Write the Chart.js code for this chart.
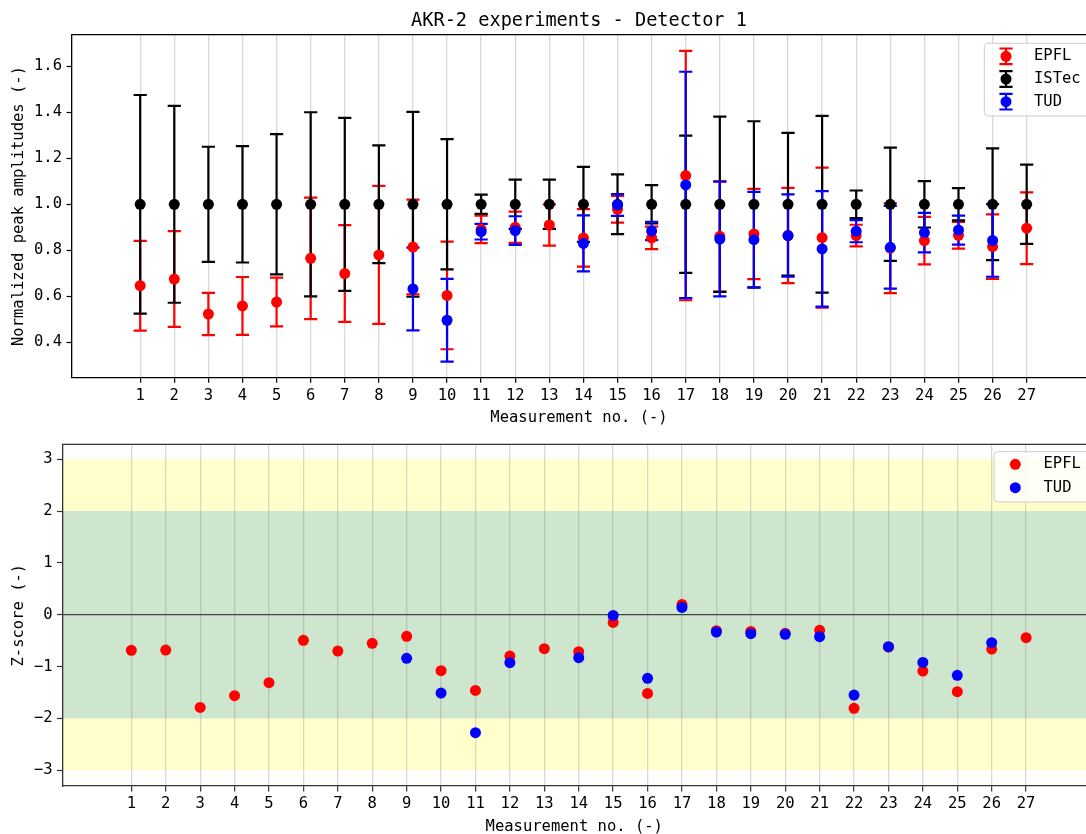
<!DOCTYPE html>
<html>
<head>
<meta charset="utf-8">
<title>AKR-2 experiments - Detector 1</title>
<script src="https://cdn.jsdelivr.net/npm/chart.js@4/dist/chart.umd.min.js"></script>
<style>
  html, body { margin: 0; padding: 0; background: #ffffff; overflow: hidden; }
  #wrap { position: relative; width: 1086px; height: 834px; overflow: hidden; }
  canvas { position: absolute; left: 0; }
  #amplitudes { top: 0; }
  #zscores { top: 430px; }
</style>
</head>
<body>
<div id="wrap">
  <canvas id="amplitudes" width="1086" height="430"></canvas>
  <canvas id="zscores" width="1086" height="410"></canvas>
</div>
<script>
// Measurement numbers shared by both panels
const measurementNos = [1, 2, 3, 4, 5, 6, 7, 8, 9, 10, 11, 12, 13, 14, 15, 16, 17, 18, 19, 20, 21, 22, 23, 24, 25, 26, 27];

// Normalized peak amplitudes and their (symmetric) uncertainties
const epflValues = [0.646, 0.675, 0.523, 0.558, 0.575, 0.765, 0.699, 0.780, 0.814, 0.604, 0.891, 0.900, 0.910, 0.854, 0.978, 0.854, 1.125, 0.861, 0.871, 0.864, 0.855, 0.864, 0.809, 0.842, 0.865, 0.816, 0.896];
const epflErrors = [0.195, 0.208, 0.092, 0.126, 0.106, 0.264, 0.210, 0.300, 0.206, 0.234, 0.060, 0.068, 0.090, 0.125, 0.058, 0.049, 0.542, 0.240, 0.196, 0.207, 0.304, 0.047, 0.195, 0.103, 0.058, 0.140, 0.156];

const istecValues = [1, 1, 1, 1, 1, 1, 1, 1, 1, 1, 1, 1, 1, 1, 1, 1, 1, 1, 1, 1, 1, 1, 1, 1, 1, 1, 1];
const istecErrors = [0.475, 0.428, 0.250, 0.253, 0.305, 0.400, 0.376, 0.256, 0.402, 0.283, 0.042, 0.107, 0.107, 0.163, 0.130, 0.083, 0.298, 0.381, 0.361, 0.310, 0.384, 0.060, 0.246, 0.101, 0.070, 0.243, 0.172];

const tudValues = [null, null, null, null, null, null, null, null, 0.632, 0.496, 0.881, 0.886, null, 0.830, 0.997, 0.884, 1.084, 0.849, 0.846, 0.864, 0.806, 0.883, 0.813, 0.877, 0.888, 0.843, null];
const tudErrors = [null, null, null, null, null, null, null, null, 0.180, 0.180, 0.034, 0.062, null, 0.122, 0.047, 0.040, 0.492, 0.249, 0.208, 0.179, 0.251, 0.048, 0.180, 0.086, 0.063, 0.158, null];

// Z-scores relative to the ISTec reference
const epflZ = [-0.688, -0.682, -1.788, -1.563, -1.312, -0.495, -0.701, -0.553, -0.418, -1.080, -1.460, -0.797, -0.656, -0.714, -0.148, -1.518, 0.199, -0.309, -0.322, -0.360, -0.302, -1.807, -0.624, -1.087, -1.486, -0.662, -0.444];
const tudZ = [null, null, null, null, null, null, null, null, -0.842, -1.511, -2.277, -0.926, null, -0.830, -0.013, -1.228, 0.141, -0.334, -0.367, -0.379, -0.424, -1.550, -0.617, -0.920, -1.170, -0.540, null];

// Tick labels
const amplitudeTicks = [0.4, 0.6, 0.8, 1.0, 1.2, 1.4, 1.6];
const zTicks = [-3, -2, -1, 0, 1, 2, 3];

const FONT = "'DejaVu Sans Mono', 'Liberation Mono', monospace";
const RED = '#ff0000', BLACK = '#000000', BLUE = '#0000ff';

function points(values, errors) {
  const out = [];
  measurementNos.forEach((n, i) => {
    if (values[i] === null) return;
    out.push({ x: n, y: values[i], err: errors ? errors[i] : null });
  });
  return out;
}

// Vertical error bars with caps, drawn underneath every marker
const errorBars = {
  id: 'errorBars',
  beforeDatasetsDraw(chart, args, opts) {
    if (!opts.enabled) return;
    const { ctx, chartArea: a, scales: { x, y } } = chart;
    ctx.save();
    ctx.beginPath();
    ctx.rect(a.left, a.top, a.right - a.left, a.bottom - a.top);
    ctx.clip();
    ctx.lineWidth = 2.2;
    chart.data.datasets.forEach(ds => {
      ctx.strokeStyle = ds.backgroundColor;
      ds.data.forEach(p => {
        if (p.err == null) return;
        const px = x.getPixelForValue(p.x);
        const top = y.getPixelForValue(p.y + p.err);
        const bot = y.getPixelForValue(p.y - p.err);
        ctx.beginPath();
        ctx.moveTo(px, top); ctx.lineTo(px, bot);
        ctx.moveTo(px - 6.6, top); ctx.lineTo(px + 6.6, top);
        ctx.moveTo(px - 6.6, bot); ctx.lineTo(px + 6.6, bot);
        ctx.stroke();
      });
    });
    ctx.restore();
  }
};

// Agreement bands (|z| < 2 green, 2 < |z| < 3 yellow) and the zero line
const zBands = {
  id: 'zBands',
  beforeDraw(chart, args, opts) {
    if (!opts.enabled) return;
    const { ctx, chartArea: a, scales: { y } } = chart;
    const band = (lo, hi, color) => {
      const t = y.getPixelForValue(hi), b = y.getPixelForValue(lo);
      ctx.fillStyle = color;
      ctx.fillRect(a.left, t, a.right - a.left, b - t);
    };
    ctx.save();
    band(2, 3, 'rgb(255,255,204)');
    band(-3, -2, 'rgb(255,255,204)');
    band(-2, 2, 'rgb(206,229,206)');
    ctx.restore();
  },
  beforeDatasetsDraw(chart, args, opts) {
    if (!opts.enabled) return;
    const { ctx, chartArea: a, scales: { y } } = chart;
    const y0 = y.getPixelForValue(0);
    ctx.save();
    ctx.strokeStyle = '#444444';
    ctx.lineWidth = 1.3;
    ctx.beginPath();
    ctx.moveTo(a.left, y0); ctx.lineTo(a.right, y0);
    ctx.stroke();
    ctx.restore();
  }
};

// Top frame line
const topSpine = {
  id: 'topSpine',
  afterDatasetsDraw(chart, args, opts) {
    const { ctx, chartArea: a } = chart;
    ctx.save();
    ctx.strokeStyle = opts.color || '#000';
    ctx.lineWidth = 1.3;
    ctx.beginPath();
    ctx.moveTo(a.left - 0.6, a.top); ctx.lineTo(a.right, a.top);
    ctx.stroke();
    ctx.restore();
  }
};

// Boxed legend in the upper right corner of the plot area
const boxLegend = {
  id: 'boxLegend',
  afterDraw(chart, args, o) {
    if (!o.enabled) return;
    const ctx = chart.ctx;
    ctx.save();
    const r = 3.5, x = o.x, y = o.y, w = o.w, h = o.h;
    ctx.beginPath();
    ctx.moveTo(x + r, y);
    ctx.lineTo(x + w - r, y); ctx.arcTo(x + w, y, x + w, y + r, r);
    ctx.lineTo(x + w, y + h - r); ctx.arcTo(x + w, y + h, x + w - r, y + h, r);
    ctx.lineTo(x + r, y + h); ctx.arcTo(x, y + h, x, y + h - r, r);
    ctx.lineTo(x, y + r); ctx.arcTo(x, y, x + r, y, r);
    ctx.closePath();
    ctx.fillStyle = 'rgba(255,255,255,0.8)';
    ctx.fill();
    ctx.strokeStyle = '#cccccc';
    ctx.lineWidth = 1;
    ctx.stroke();

    ctx.font = '15.5px ' + FONT;
    ctx.textBaseline = 'middle';
    ctx.textAlign = 'left';
    chart.data.datasets.forEach((ds, i) => {
      const ry = o.rows[i];
      const c = ds.backgroundColor;
      if (o.errorGlyph) {
        ctx.strokeStyle = c;
        ctx.lineWidth = 2.2;
        ctx.beginPath();
        ctx.moveTo(o.markerX, ry - 7.8); ctx.lineTo(o.markerX, ry + 7.8);
        ctx.moveTo(o.markerX - 6.6, ry - 7.8); ctx.lineTo(o.markerX + 6.6, ry - 7.8);
        ctx.moveTo(o.markerX - 6.6, ry + 7.8); ctx.lineTo(o.markerX + 6.6, ry + 7.8);
        ctx.stroke();
      }
      ctx.fillStyle = c;
      ctx.beginPath();
      ctx.arc(o.markerX, ry, 5.5, 0, Math.PI * 2);
      ctx.fill();
      ctx.fillStyle = '#000';
      ctx.fillText(ds.label, o.textX, ry);
    });
    ctx.restore();
  }
};

function xScale(bottomHeight, titlePadBottom, axisColor) {
  return {
    type: 'linear',
    min: -1,
    max: 28.74,
    afterBuildTicks: axis => { axis.ticks = measurementNos.map(v => ({ value: v })); },
    afterFit: s => { s.height = bottomHeight; },
    ticks: {
      autoSkip: false, maxRotation: 0, padding: 3.4,
      color: '#000000', font: { family: FONT, size: 15.5 },
      callback: v => String(v)
    },
    grid: {
      display: true, drawOnChartArea: true, drawTicks: true,
      color: 'rgba(128,128,128,0.3)', lineWidth: 1.3,
      tickColor: axisColor, tickLength: 5.5, tickWidth: 1.2
    },
    border: { display: true, color: axisColor, width: 1.3 },
    title: {
      display: true, text: 'Measurement no. (-)', color: '#000000',
      font: { family: FONT, size: 15.5 }, padding: { top: 0, bottom: titlePadBottom }
    }
  };
}

function yScale(min, max, tickValues, fmt, title, width, axisColor) {
  return {
    type: 'linear',
    min: min, max: max,
    afterBuildTicks: axis => { axis.ticks = tickValues.map(v => ({ value: v })); },
    afterFit: s => { s.width = width; },
    ticks: {
      padding: 4.5, color: '#000000', font: { family: FONT, size: 15.5 },
      callback: fmt
    },
    grid: {
      display: true, drawOnChartArea: false, drawTicks: true,
      tickColor: axisColor, tickLength: 5.5, tickWidth: 1.2
    },
    border: { display: true, color: axisColor, width: 1.3 },
    title: {
      display: true, text: title, color: '#000000',
      font: { family: FONT, size: 15.5 }, padding: { top: 10, bottom: 0 }
    }
  };
}

const common = {
  responsive: false,
  animation: false,
  events: [],
  elements: { point: { radius: 5.5, borderWidth: 0, hoverRadius: 5.5 } }
};

// Panel 1: normalized peak amplitudes with uncertainties
new Chart(document.getElementById('amplitudes'), {
  type: 'scatter',
  data: {
    datasets: [
      { label: 'EPFL', data: points(epflValues, epflErrors), backgroundColor: RED, borderColor: RED, order: 3 },
      { label: 'ISTec', data: points(istecValues, istecErrors), backgroundColor: BLACK, borderColor: BLACK, order: 2 },
      { label: 'TUD', data: points(tudValues, tudErrors), backgroundColor: BLUE, borderColor: BLUE, order: 1 }
    ]
  },
  options: Object.assign({}, common, {
    layout: { autoPadding: false, padding: { top: 0, left: 0, right: 0, bottom: 0 } },
    scales: {
      x: xScale(52.7, 2.6, '#000000'),
      y: yScale(0.248, 1.737, amplitudeTicks, v => v.toFixed(1), 'Normalized peak amplitudes (-)', 72, '#000000')
    },
    plugins: {
      legend: { display: false },
      tooltip: { enabled: false },
      title: {
        display: true, fullSize: false, text: 'AKR-2 experiments - Detector 1', color: '#000',
        font: { family: FONT, size: 18.6, weight: 'normal' }, padding: { top: 10, bottom: 2.4 }
      },
      errorBars: { enabled: true },
      zBands: { enabled: false },
      topSpine: { color: '#000' },
      boxLegend: { enabled: true, x: 984.3, y: 43.3, w: 130, h: 72.7, rows: [56.3, 79, 101.7], markerX: 1006, textX: 1034, errorGlyph: true }
    }
  }),
  plugins: [errorBars, zBands, topSpine, boxLegend]
});

// Panel 2: z-scores with agreement bands
new Chart(document.getElementById('zscores'), {
  type: 'scatter',
  data: {
    datasets: [
      { label: 'EPFL', data: points(epflZ, null), backgroundColor: RED, borderColor: RED, order: 2 },
      { label: 'TUD', data: points(tudZ, null), backgroundColor: BLUE, borderColor: BLUE, order: 1 }
    ]
  },
  options: Object.assign({}, common, {
    layout: { autoPadding: false, padding: { top: 14.3, left: 0, right: 0, bottom: 0 } },
    scales: {
      x: xScale(54, 3.9, '#333333'),
      y: yScale(-3.305, 3.288, zTicks, v => (v < 0 ? '\u2212' + Math.abs(v) : String(v)), 'Z-score (-)', 62.5, '#333333')
    },
    plugins: {
      legend: { display: false },
      tooltip: { enabled: false },
      title: { display: false },
      errorBars: { enabled: false },
      zBands: { enabled: true },
      topSpine: { color: '#333333' },
      boxLegend: { enabled: true, x: 994, y: 21.7, w: 130, h: 50.3, rows: [34.3, 57.7], markerX: 1015.3, textX: 1043.5, errorGlyph: false }
    }
  }),
  plugins: [errorBars, zBands, topSpine, boxLegend]
});
</script>
</body>
</html>
